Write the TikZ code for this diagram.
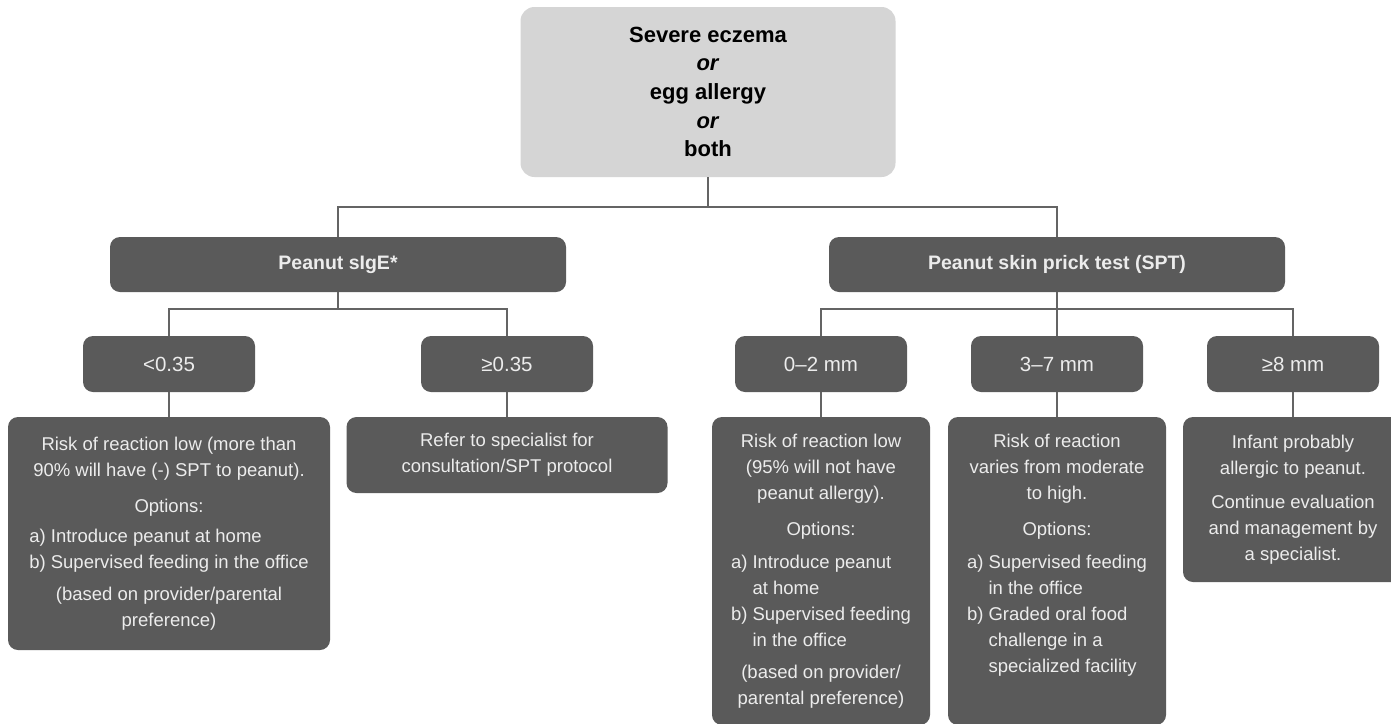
\documentclass[tikz,border=0pt]{standalone}
\usepackage{fontspec}
\setmainfont{Liberation Sans}
\definecolor{boxgray}{RGB}{90,90,90}
\definecolor{linegray}{RGB}{100,100,100}
\definecolor{topgray}{RGB}{213,213,213}
\definecolor{txtlight}{RGB}{236,236,236}
\newcommand{\bodyfont}{\fontsize{18.5}{26}\selectfont}
\newcommand{\tbox}[3]{\begin{minipage}[c][#2][c]{#1}\bodyfont\centering #3\end{minipage}}
\tikzset{
  conn/.style={draw=linegray, line width=2.4pt},
  dbox/.style={fill=boxgray, rounded corners=10pt, inner sep=0pt, text=txtlight},
  hdrbox/.style={dbox, minimum width=456pt, minimum height=55pt, font=\fontsize{19.5}{24}\selectfont\bfseries},
  lblbox/.style={dbox, minimum width=172pt, minimum height=56pt, font=\fontsize{20.5}{24}\selectfont},
  topbox/.style={fill=topgray, rounded corners=14pt, minimum width=375pt, minimum height=170pt, align=center, text=black, font=\fontsize{22}{28.6}\selectfont\bfseries}
}
\begin{document}
\begin{tikzpicture}[x=1pt,y=-1pt]
\useasboundingbox (0,0) rectangle (1391,723);
\clip (0,0) rectangle (1391,723);
\fill[white] (0,0) rectangle (1391,723);

\node[topbox] (top) at (708,92) {Severe eczema\\\textit{or}\\egg allergy\\\textit{or}\\both};

\node[hdrbox] (sige) at (338,264.5) {Peanut sIgE*};
\node[hdrbox] (spt) at (1057,264.5) {Peanut skin prick test (SPT)};

\node[lblbox] (lt) at (169,364) {<0.35};
\node[lblbox] (ge) at (507,364) {≥0.35};
\node[lblbox] (sa) at (821,364) {0–2 mm};
\node[lblbox] (sb) at (1057,364) {3–7 mm};
\node[lblbox] (sc) at (1293,364) {≥8 mm};

\node[dbox] (la) at (169,533.5) {\tbox{322pt}{233pt}{%
Risk of reaction low (more than\\
90\% will have (-) SPT to peanut).\par
\vspace{10pt}
Options:\par
\vspace{4pt}
\begin{tabular}[t]{@{}l@{}}
a) Introduce peanut at home\\
b) Supervised feeding in the office
\end{tabular}\par
\vspace{10pt}
(based on provider/parental\\
preference)}};

\node[dbox] (lb) at (507,455) {\tbox{321pt}{76pt}{%
Refer to specialist for\\
consultation/SPT protocol}};

\node[dbox] (ra) at (821,571) {\tbox{218pt}{308pt}{%
Risk of reaction low\\
(95\% will not have\\
peanut allergy).\par
\vspace{10pt}
Options:\par
\vspace{7pt}
\begin{tabular}[t]{@{}l@{\hspace{5pt}}l@{}}
a) & Introduce peanut\\
   & at home\\
b) & Supervised feeding\\
   & in the office
\end{tabular}\par
\vspace{10pt}
(based on provider/\\
parental preference)}};

\node[dbox] (rb) at (1057,571) {\tbox{218pt}{308pt}{%
Risk of reaction\\
varies from moderate\\
to high.\par
\vspace{10pt}
Options:\par
\vspace{7pt}
\begin{tabular}[t]{@{}l@{\hspace{5pt}}l@{}}
a) & Supervised feeding\\
   & in the office\\
b) & Graded oral food\\
   & challenge in a\\
   & specialized facility
\end{tabular}\par
\kern27pt}};

\node[dbox] (rc) at (1293,499.5) {\tbox{220pt}{165pt}{%
Infant probably\\
allergic to peanut.\par
\vspace{8pt}
Continue evaluation\\
and management by\\
a specialist.}};

\draw[conn] (top.south) -- ++(0,30) -| (sige.north);
\draw[conn] (top.south) -- ++(0,30) -| (spt.north);
\draw[conn] (sige.south) -- ++(0,17) -| (lt.north);
\draw[conn] (sige.south) -- ++(0,17) -| (ge.north);
\draw[conn] (spt.south) -- ++(0,17) -| (sa.north);
\draw[conn] (spt.south) -- (sb.north);
\draw[conn] (spt.south) -- ++(0,17) -| (sc.north);
\draw[conn] (lt.south) -- (la.north);
\draw[conn] (ge.south) -- (lb.north);
\draw[conn] (sa.south) -- (ra.north);
\draw[conn] (sb.south) -- (rb.north);
\draw[conn] (sc.south) -- (rc.north);
\end{tikzpicture}
\end{document}
